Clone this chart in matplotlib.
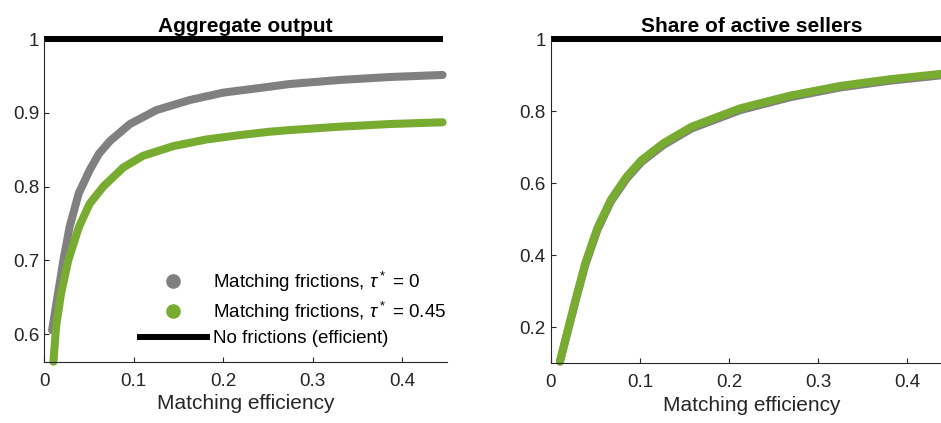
import matplotlib.pyplot as plt
from matplotlib.lines import Line2D

plt.rcParams["font.family"] = ["Liberation Sans", "DejaVu Sans"]
plt.rcParams["mathtext.fontset"] = "custom"
plt.rcParams["mathtext.rm"] = "Liberation Sans"
plt.rcParams["mathtext.it"] = "Liberation Sans:italic"

# -------- Data --------
# aggregate output vs matching efficiency
out_x_tau0 = [0.009, 0.0156, 0.0216, 0.0286, 0.0386, 0.051, 0.0613, 0.0736, 0.0959,
              0.1256, 0.1628, 0.2, 0.252, 0.2742, 0.33, 0.3857, 0.445]
out_y_tau0 = [0.605, 0.655, 0.700, 0.7455, 0.7905, 0.8227, 0.8446, 0.862, 0.885,
              0.904, 0.9176, 0.9276, 0.9357, 0.9393, 0.9448, 0.9488, 0.9516]

out_x_tau45 = [0.0105, 0.0134, 0.019, 0.027, 0.039, 0.051, 0.0661, 0.0884, 0.1107,
               0.1442, 0.181, 0.2185, 0.252, 0.2742, 0.33, 0.3857, 0.445]
out_y_tau45 = [0.5625, 0.610, 0.655, 0.700, 0.7455, 0.777, 0.800, 0.826, 0.842,
               0.855, 0.864, 0.870, 0.8746, 0.8768, 0.8814, 0.885, 0.8874]

# share of active sellers vs matching efficiency
share_x = [0.0104, 0.0205, 0.0291, 0.0388, 0.0523, 0.0673, 0.0852, 0.102, 0.1262,
           0.158, 0.2122, 0.2683, 0.3243, 0.3804, 0.4365, 0.445]
share_y_tau45 = [0.105, 0.205, 0.288, 0.378, 0.475, 0.5536, 0.6183, 0.6647, 0.711,
                 0.7572, 0.808, 0.8434, 0.8703, 0.889, 0.9036, 0.906]
share_y_tau0 = [0.105, 0.202, 0.284, 0.373, 0.470, 0.5486, 0.6133, 0.6597, 0.706,
                0.7522, 0.803, 0.8389, 0.8661, 0.885, 0.8996, 0.902]

# efficient benchmark
eff_x = [0.0, 0.445]
eff_y = [1.0, 1.0]

xticks = [0, 0.1, 0.2, 0.3, 0.4]
out_yticks = [0.6, 0.7, 0.8, 0.9, 1]
share_yticks = [0.2, 0.4, 0.6, 0.8, 1]

GRAY = "#808080"
GREEN = "#77AC30"
AXC = "#262626"

fig = plt.figure(figsize=(9.41, 4.23), dpi=100)
ax1 = fig.add_axes([0.0468, 0.1449, 0.4283, 0.7622])
ax2 = fig.add_axes([0.5852, 0.1411, 0.4265, 0.7660])


def style(ax, yticks):
    ax.set_xlim(0, 0.45)
    ax.set_xticks(xticks)
    ax.set_xticklabels(["%g" % t for t in xticks])
    ax.set_yticks(yticks)
    ax.set_yticklabels(["%g" % t for t in yticks])
    for s in ["top", "right"]:
        ax.spines[s].set_visible(False)
    for s in ["left", "bottom"]:
        ax.spines[s].set_color(AXC)
        ax.spines[s].set_linewidth(0.8)
    ax.tick_params(direction="in", length=3.5, width=0.8, colors=AXC,
                   labelsize=13.6)
    ax.tick_params(axis="x", pad=8)
    ax.tick_params(axis="y", pad=3.5)
    ax.set_xlabel("Matching efficiency", fontsize=15, color=AXC, labelpad=3)


kw = dict(lw=5.8, solid_capstyle="round", solid_joinstyle="round", clip_on=False)

# -------- Aggregate output --------
ax1.plot(out_x_tau0, out_y_tau0, color=GRAY, **kw)
ax1.plot(out_x_tau45, out_y_tau45, color=GREEN, **kw)
ax1.plot(eff_x, eff_y, color="black", lw=4.3, solid_capstyle="butt", clip_on=False)
ax1.set_ylim(0.5625, 1)
style(ax1, out_yticks)
ax1.set_title("Aggregate output", fontsize=15, fontweight="bold", pad=5)

handles = [
    Line2D([], [], ls="none", marker="o", ms=9.5, color=GRAY),
    Line2D([], [], ls="none", marker="o", ms=9.5, color=GREEN),
    Line2D([], [], color="black", lw=4.3),
]
labels = [
    r"Matching frictions, $\tau^*$ = 0",
    r"Matching frictions, $\tau^*$ = 0.45",
    "No frictions (efficient)",
]
ax1.legend(handles, labels, loc="upper left", bbox_to_anchor=(0.238, 0.285),
           frameon=False, fontsize=13.5, borderpad=0, borderaxespad=0,
           handlelength=3.57, handletextpad=0.32, labelspacing=0.32)

# -------- Share of active sellers --------
ax2.plot(share_x, share_y_tau0, color=GRAY, **kw)
ax2.plot(share_x, share_y_tau45, color=GREEN, **kw)
ax2.plot(eff_x, eff_y, color="black", lw=4.3, solid_capstyle="butt", clip_on=False)
ax2.set_ylim(0.1, 1)
style(ax2, share_yticks)
ax2.set_title("Share of active sellers", fontsize=15, fontweight="bold", pad=5)

plt.savefig("out.png", dpi=100)
